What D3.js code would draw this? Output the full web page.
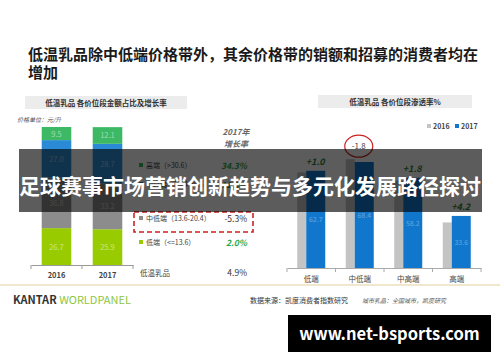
<!DOCTYPE html>
<html><head><meta charset="utf-8">
<script src="https://cdn.jsdelivr.net/npm/d3@7"></script>
<style>body{margin:0;background:#fff}svg{display:block}text{font-family:"Noto Sans CJK SC","Noto Sans",sans-serif}</style>
</head><body>
<script>
// ---- data ----
const years = ["2016", "2017"];
const segments = ["低端", "中低端", "中高端", "高端"];
const share2016 = [26.7, 36.8, 27.0, 9.5];
const share2017 = [25.9, 33.2, 28.7, 12.1];
const legendLabels = ["高端（>30.6）", "中高端（20.4-30.6）", "中低端（13.6-20.4）", "低端（<=13.6）"];
const growth2017 = ["34.3%", "11.5%", "-5.3%", "2.0%"];
const totalGrowth = "4.9%";
const pen2016 = [61.7, 70.2, 56.4, 29.4];
const pen2017 = [62.7, 68.4, 58.2, 33.6];
const penDelta = ["+1.0", "-1.8", "+1.8", "+4.2"];

const W = 500, H = 362;
const svg = d3.select("body").append("svg").attr("width", W).attr("height", H);

// headline
svg.append("text").attr("x", 28).attr("y", 60).attr("font-size", 15).attr("font-weight", "bold").attr("fill", "#1a1a1a")
  .text("低温乳品除中低端价格带外，其余价格带的销额和招募的消费者均在");
svg.append("text").attr("x", 28).attr("y", 78).attr("font-size", 15).attr("font-weight", "bold").attr("fill", "#1a1a1a").text("增加");

// panel title boxes
svg.append("rect").attr("x", 25).attr("y", 96).attr("width", 162).attr("height", 13).attr("fill", "#ececec");
svg.append("text").attr("x", 106).attr("y", 106).attr("text-anchor", "middle").attr("font-size", 7.5).attr("font-weight", "bold").attr("fill", "#333")
  .text("低温乳品  各价位段金额占比及增长率");
svg.append("rect").attr("x", 318).attr("y", 95).attr("width", 154).attr("height", 13).attr("fill", "#ececec");
svg.append("text").attr("x", 395).attr("y", 105).attr("text-anchor", "middle").attr("font-size", 7.5).attr("font-weight", "bold").attr("fill", "#333")
  .text("低温乳品  各价位段渗透率%");

svg.append("text").attr("x", 17).attr("y", 122).attr("font-size", 6).attr("font-style", "italic").attr("fill", "#555").text("价格单位：元/升");

// ---- left stacked bars ----
const segColors = ["#99cc00", "#8c8c8c", "#2b8ad6", "#3db865"];
const xL = d3.scaleBand().domain(years).range([31, 133]).paddingInner(0.42).paddingOuter(0.21);
const yL = d3.scaleLinear().domain([0, 100]).range([265, 127]);
const stackData = years.map((y, i) => { const o = {year: y}; segments.forEach((s, j) => o[s] = (i ? share2017 : share2016)[j]); return o; });
const series = d3.stack().keys(segments)(stackData);
const gL = svg.append("g");
series.forEach((ser, j) => {
  gL.selectAll(null).data(ser).join("rect")
    .attr("x", d => xL(d.data.year)).attr("width", xL.bandwidth())
    .attr("y", d => yL(d[1])).attr("height", d => yL(d[0]) - yL(d[1]))
    .attr("fill", segColors[j]);
  gL.selectAll(null).data(ser).join("text")
    .attr("x", d => xL(d.data.year) + xL.bandwidth() / 2).attr("y", d => (yL(d[0]) + yL(d[1])) / 2 + 3)
    .attr("text-anchor", "middle").attr("font-size", 7.5).attr("font-family", "Liberation Sans, Arial")
    .attr("fill", "rgba(255,255,255,0.5)").text(d => (d[1] - d[0]).toFixed(1));
});
const axL = svg.append("g").attr("transform", "translate(0,265)")
  .call(d3.axisBottom(xL).tickSize(0).tickPadding(8));
axL.select(".domain").attr("stroke", "#999");
axL.selectAll("text").attr("font-size", 7.5).attr("font-weight", "bold").attr("fill", "#444");
[31, 82, 133].forEach(x => svg.append("line").attr("x1", x).attr("x2", x).attr("y1", 265).attr("y2", 269).attr("stroke", "#999"));

// ---- middle legend with growth ----
svg.append("text").attr("x", 236).attr("y", 135).attr("text-anchor", "middle").attr("font-size", 8).attr("font-style", "italic").attr("font-weight", "bold").attr("fill", "#666").text("2017年");
svg.append("text").attr("x", 236).attr("y", 147).attr("text-anchor", "middle").attr("font-size", 8).attr("font-style", "italic").attr("font-weight", "bold").attr("fill", "#666").text("增长率");
const legY = [169, 188, 222, 246];
const legColorIdx = [3, 2, 1, 0];
legendLabels.forEach((t, i) => {
  svg.append("rect").attr("x", 139).attr("y", legY[i] - 6).attr("width", 4).attr("height", 4).attr("fill", segColors[legColorIdx[i]]);
  svg.append("text").attr("x", 146).attr("y", legY[i] - 1).attr("font-size", 7).attr("fill", "#444").text(t);
  const neg = growth2017[i].startsWith("-");
  svg.append("text").attr("x", 247).attr("y", legY[i]).attr("text-anchor", "end").attr("font-size", 8.5)
    .attr("font-family", "Liberation Sans, Arial")
    .attr("font-style", neg ? "normal" : "italic").attr("font-weight", neg ? "normal" : "bold")
    .attr("fill", neg ? "#333" : "#2aa84a").text(growth2017[i]);
});
svg.append("rect").attr("x", 134).attr("y", 212).attr("width", 119).attr("height", 20).attr("fill", "none")
  .attr("stroke", "#cc2222").attr("stroke-width", 1.6).attr("stroke-dasharray", "5,3");
svg.append("text").attr("x", 140).attr("y", 276).attr("font-size", 7.5).attr("fill", "#444").text("低温乳品");
svg.append("text").attr("x", 247).attr("y", 276).attr("text-anchor", "end").attr("font-size", 8.5).attr("font-family", "Liberation Sans, Arial").attr("fill", "#333").text(totalGrowth);

// ---- right grouped bars ----
const xR = d3.scaleBand().domain(segments).range([287, 481]);
const yR = d3.scaleLinear().domain([0, 80]).range([268, 144]);
const gR = svg.append("g");
segments.forEach((s, i) => {
  const c = xR(s) + xR.bandwidth() / 2;
  gR.append("rect").attr("x", c - 14).attr("width", 9).attr("y", yR(pen2016[i])).attr("height", yR(0) - yR(pen2016[i])).attr("fill", "#c4c4c4");
  gR.append("rect").attr("x", c - 5).attr("width", 19).attr("y", yR(pen2017[i])).attr("height", yR(0) - yR(pen2017[i])).attr("fill", "#1177cc");
  gR.append("text").attr("x", c + 4.5).attr("y", yR(pen2017[i] / 2) + 3).attr("text-anchor", "middle").attr("font-size", 7).attr("font-family", "Liberation Sans, Arial")
    .attr("fill", "rgba(255,255,255,0.35)").text(pen2017[i].toFixed(1));
  const top = Math.min(yR(pen2016[i]), yR(pen2017[i]));
  const neg = penDelta[i].startsWith("-");
  gR.append("text").attr("x", c + (neg ? -1 : 4)).attr("y", top - (neg ? 10 : 6)).attr("text-anchor", "middle")
    .attr("font-size", neg ? 8 : 9).attr("font-family", "Liberation Sans, Arial")
    .attr("font-style", neg ? "normal" : "italic").attr("font-weight", neg ? "normal" : "bold")
    .attr("fill", neg ? "#444" : "#2e7d32").text(penDelta[i]);
  if (neg) gR.append("ellipse").attr("cx", c - 1).attr("cy", top - 13).attr("rx", 14).attr("ry", 11)
    .attr("fill", "none").attr("stroke", "#cc2222").attr("stroke-width", 1.2);
});
const axR = svg.append("g").attr("transform", "translate(0,268)").call(d3.axisBottom(xR).tickSize(0).tickPadding(9));
axR.select(".domain").attr("stroke", "#aaa");
axR.selectAll("text").attr("font-size", 7.5).attr("fill", "#444");
d3.range(5).forEach(k => { const x = 287 + k * xR.step(); svg.append("line").attr("x1", x).attr("x2", x).attr("y1", 268).attr("y2", 272).attr("stroke", "#aaa"); });
// legend right
[["2016", "#c4c4c4", 432], ["2017", "#1177cc", 460]].forEach(([t, col, x]) => {
  svg.append("rect").attr("x", x - 5).attr("y", 124).attr("width", 4).attr("height", 4).attr("fill", col);
  svg.append("text").attr("x", x + 1).attr("y", 129).attr("font-size", 7).attr("font-weight", "bold").attr("font-family", "Liberation Sans, Arial").attr("fill", "#444").text(t);
});

// footer
svg.append("line").attr("x1", 0).attr("x2", 500).attr("y1", 285).attr("y2", 285).attr("stroke", "#e2cf9a").attr("stroke-width", 1.2);
const k = svg.append("text").attr("x", 13).attr("y", 304).attr("font-size", 11).attr("font-family", "Liberation Sans, Arial").attr("font-weight", "bold");
k.append("tspan").attr("fill", "#333").text("KANTAR ");
k.append("tspan").attr("fill", "#8dc63f").attr("font-weight", "normal").text("WORLDPANEL");
svg.append("text").attr("x", 250).attr("y", 303).attr("font-size", 7).attr("fill", "#333").text("数据来源：凯度消费者指数研究");
svg.append("text").attr("x", 362).attr("y", 303).attr("font-size", 6).attr("font-style", "italic").attr("fill", "#555").text("城市乳品：全国城市，凯度研究");

// overlay band
svg.append("rect").attr("x", 19).attr("y", 149).attr("width", 463).attr("height", 63).attr("fill", "rgba(0,0,0,0.64)");
svg.append("text").attr("x", 250).attr("y", 194).attr("text-anchor", "middle").attr("font-size", 21).attr("font-weight", "bold").attr("fill", "#fff")
  .text("足球赛事市场营销创新趋势与多元化发展路径探讨");

// watermark box
svg.append("rect").attr("x", 288).attr("y", 315).attr("width", 203).attr("height", 37).attr("fill", "#000");
svg.append("text").attr("x", 389.5).attr("y", 340).attr("text-anchor", "middle").attr("font-size", 16.5).attr("font-weight", "bold").attr("font-family", "DejaVu Sans").attr("fill", "#fff").text("www.net-bsports.com");
</script>
</body></html>
